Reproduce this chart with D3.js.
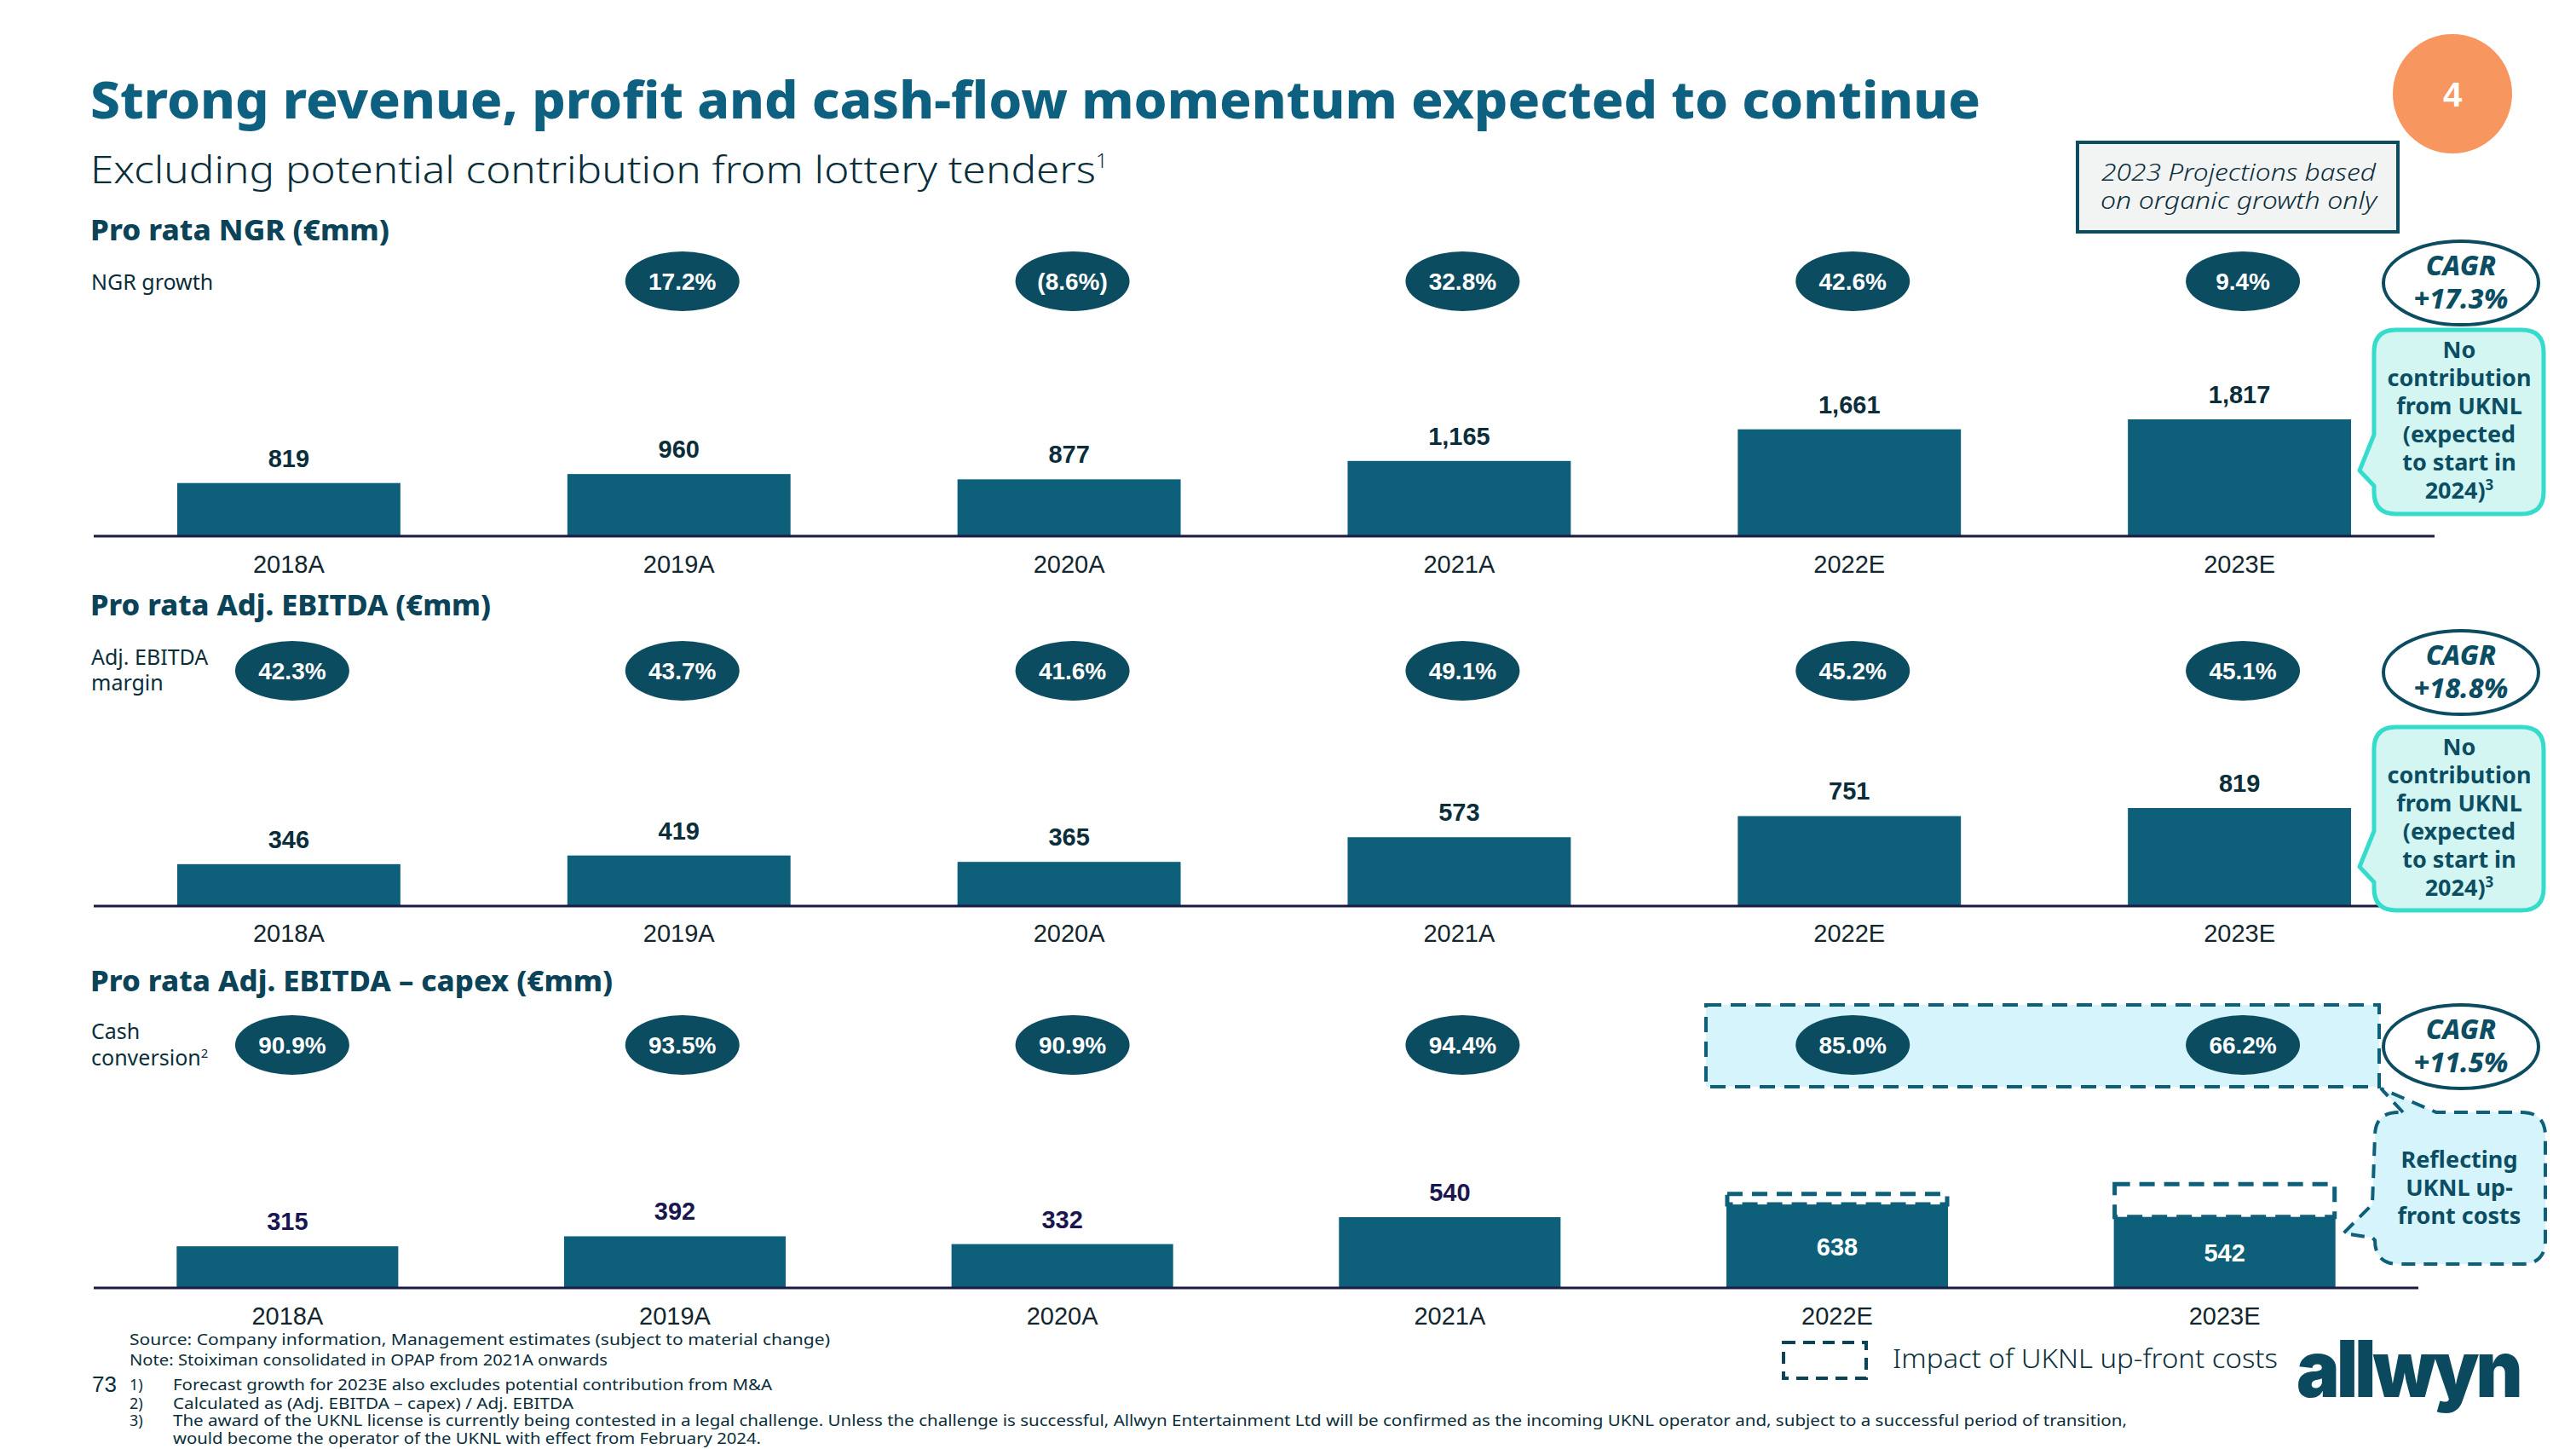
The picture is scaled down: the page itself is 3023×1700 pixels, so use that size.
<!DOCTYPE html>
<html>
<head>
<meta charset="utf-8">
<script src="https://cdn.jsdelivr.net/npm/d3@7"></script>
<style>
  html, body { margin: 0; padding: 0; background: #ffffff; }
  svg { display: block; }
</style>
</head>
<body>
<div id="chart"></div>
<script>
// ---------------- DATA ----------------
const categories = ["2018A", "2019A", "2020A", "2021A", "2022E", "2023E"];
const ngr = [819, 960, 877, 1165, 1661, 1817];
const ngrGrowth = [null, "17.2%", "(8.6%)", "32.8%", "42.6%", "9.4%"];
const ebitda = [346, 419, 365, 573, 751, 819];
const ebitdaMargin = ["42.3%", "43.7%", "41.6%", "49.1%", "45.2%", "45.1%"];
const ebitdaCapex = [315, 392, 332, 540, 638, 542];
const cashConversion = ["90.9%", "93.5%", "90.9%", "94.4%", "85.0%", "66.2%"];
const ebitdaCapexExUknlCosts = [null, null, null, null, 720, 795];
const cagrLabels = ["+17.3%", "+18.8%", "+11.5%"];
const panelTitles = ["Pro rata NGR (€mm)", "Pro rata Adj. EBITDA (€mm)", "Pro rata Adj. EBITDA – capex (€mm)"];
const footnotes = [
  "Source: Company information, Management estimates (subject to material change)",
  "Note: Stoiximan consolidated in OPAP from 2021A onwards"
];
const numberedNotes = [
  ["1)", "Forecast growth for 2023E also excludes potential contribution from M&A"],
  ["2)", "Calculated as (Adj. EBITDA – capex) / Adj. EBITDA"],
  ["3)", "The award of the UKNL license is currently being contested in a legal challenge. Unless the challenge is successful, Allwyn Entertainment Ltd will be confirmed as the incoming UKNL operator and, subject to a successful period of transition,"]
];
const lastNoteLine = "would become the operator of the UKNL with effect from February 2024.";
const calloutLines = ["No", "contribution", "from UKNL", "(expected", "to start in", "2024)³"];
const reflectLines = ["Reflecting", "UKNL up-", "front costs"];

// ---------------- STYLE ----------------
const W = 3023, H = 1700;
const BAR = "#0d5f7a";
const PILL = "#0b4c61";
const TEAL_TXT = "#0b4d62";
const TITLE = "#0e6080";
const DARK = "#0a2e3a";
const AXIS = "#1b1b45";
const HEAD = "'Noto Sans', 'Open Sans', sans-serif";
const NUM = "'Liberation Sans', Arial, sans-serif";

const svg = d3.select("#chart").append("svg")
  .attr("width", W).attr("height", H)
  .attr("viewBox", `0 0 ${W} ${H}`);
svg.append("rect").attr("width", W).attr("height", H).attr("fill", "#ffffff");

// ---------------- HEADER ----------------
svg.append("text").attr("x", 106).attr("y", 139)
  .attr("font-family", HEAD).attr("font-weight", 800).attr("font-size", 60)
  .attr("fill", TITLE).attr("textLength", 2218).attr("lengthAdjust", "spacingAndGlyphs")
  .text("Strong revenue, profit and cash-flow momentum expected to continue");

const sub = svg.append("text").attr("x", 106).attr("y", 215)
  .attr("font-family", HEAD).attr("font-weight", 300).attr("font-size", 44)
  .attr("fill", DARK);
sub.append("tspan").attr("textLength", 1180).attr("lengthAdjust", "spacingAndGlyphs")
  .text("Excluding potential contribution from lottery tenders");
sub.append("tspan").attr("font-size", 24).attr("dy", -18).text("1");

// page badge
svg.append("circle").attr("cx", 2878).attr("cy", 110).attr("r", 70).attr("fill", "#f7965f");
svg.append("text").attr("x", 2878).attr("y", 125).attr("text-anchor", "middle")
  .attr("font-family", NUM).attr("font-weight", 700).attr("font-size", 40).attr("fill", "#ffffff").text("4");

// projections box
svg.append("rect").attr("x", 2438).attr("y", 167).attr("width", 376).attr("height", 105)
  .attr("fill", "#f2f3f3").attr("stroke", PILL).attr("stroke-width", 4);
[["2023 Projections based", 212, 2466, 322], ["on organic growth only", 245, 2465, 324]].forEach(([t, y, x, len]) => {
  svg.append("text").attr("x", x).attr("y", y)
    .attr("font-family", HEAD).attr("font-style", "italic").attr("font-weight", 300)
    .attr("font-size", 28).attr("fill", DARK)
    .attr("textLength", len).attr("lengthAdjust", "spacingAndGlyphs").text(t);
});

// ---------------- SCALES ----------------
const xTop = d3.scaleBand().domain(categories).range([110, 2857]).paddingInner(0.428).paddingOuter(0.214);
const xBottom = d3.scaleBand().domain(categories).range([110, 2838]).paddingInner(0.428).paddingOuter(0.214);

const panels = [
  { title: panelTitles[0], titleY: 282, titleLen: 351, values: ngr, pct: ngrGrowth, pctY: 330,
    x: xTop, y: d3.scaleLinear().domain([0, 1817]).range([628, 492]), axisEnd: 2857, catY: 672,
    side: [["NGR growth", 340]], labelColor: DARK },
  { title: panelTitles[1], titleY: 722, titleLen: 470, values: ebitda, pct: ebitdaMargin, pctY: 787,
    x: xTop, y: d3.scaleLinear().domain([0, 819]).range([1062, 948]), axisEnd: 2857, catY: 1105,
    side: [["Adj. EBITDA", 780], ["margin", 810]], labelColor: DARK },
  { title: panelTitles[2], titleY: 1163, titleLen: 613, values: ebitdaCapex, pct: cashConversion, pctY: 1226,
    x: xBottom, y: d3.scaleLinear().domain([0, 540]).range([1510, 1428]), axisEnd: 2838, catY: 1554,
    side: [["Cash", 1219], ["conversion", 1250]], labelColor: "#1a1650" }
];

// panel 3 highlight (behind pills)
svg.append("rect").attr("x", 2002).attr("y", 1179).attr("width", 790).attr("height", 96)
  .attr("fill", "#d6f4fc").attr("stroke", BAR).attr("stroke-width", 4)
  .attr("stroke-dasharray", "18 11");

panels.forEach((p, pi) => {
  const g = svg.append("g");
  // title
  g.append("text").attr("x", 106).attr("y", p.titleY)
    .attr("font-family", HEAD).attr("font-weight", 800).attr("font-size", 34)
    .attr("fill", "#0b4358").attr("textLength", p.titleLen).attr("lengthAdjust", "spacingAndGlyphs")
    .text(p.title);
  // side label
  p.side.forEach(([t, y], i) => {
    const st = g.append("text").attr("x", 107).attr("y", y)
      .attr("font-family", HEAD).attr("font-weight", 400).attr("font-size", 25)
      .attr("fill", DARK).text(t);
    if (pi === 2 && i === 1) st.append("tspan").attr("font-size", 15).attr("dy", -9).text("2");
  });
  // bars
  const base = p.y(0);
  g.selectAll("rect.bar").data(p.values).join("rect").attr("class", "bar")
    .attr("x", (d, i) => p.x(categories[i])).attr("width", p.x.bandwidth())
    .attr("y", d => p.y(d)).attr("height", d => base - p.y(d)).attr("fill", BAR);
  // dashed UKNL impact boxes
  if (pi === 2) {
    g.selectAll("rect.impact").data(ebitdaCapexExUknlCosts.map((d, i) => ({ d, i })).filter(o => o.d != null))
      .join("rect").attr("class", "impact")
      .attr("x", o => p.x(categories[o.i]) + 1).attr("width", p.x.bandwidth() - 2)
      .attr("y", o => p.y(o.d)).attr("height", o => p.y(ebitdaCapex[o.i]) - p.y(o.d))
      .attr("fill", "none").attr("stroke", BAR).attr("stroke-width", 5).attr("stroke-dasharray", "18 11");
  }
  // axis line
  g.append("line").attr("x1", 110).attr("x2", p.axisEnd).attr("y1", base + 1).attr("y2", base + 1)
    .attr("stroke", AXIS).attr("stroke-width", 3);
  // value labels
  g.selectAll("text.val").data(p.values).join("text").attr("class", "val")
    .attr("x", (d, i) => p.x(categories[i]) + p.x.bandwidth() / 2)
    .attr("y", (d, i) => (pi === 2 && ebitdaCapexExUknlCosts[i] != null) ? (p.y(d) + base) / 2 + 11 : p.y(d) - 19)
    .attr("text-anchor", "middle").attr("font-family", NUM).attr("font-weight", 700).attr("font-size", 29)
    .attr("fill", (d, i) => (pi === 2 && ebitdaCapexExUknlCosts[i] != null) ? "#ffffff" : p.labelColor)
    .text(d => d3.format(",")(d));
  // category labels
  g.selectAll("text.cat").data(categories).join("text").attr("class", "cat")
    .attr("x", d => p.x(d) + p.x.bandwidth() / 2).attr("y", p.catY)
    .attr("text-anchor", "middle").attr("font-family", NUM).attr("font-size", 29)
    .attr("fill", "#13262e").text(d => d);
  // pills
  const pills = p.pct.map((t, i) => ({ t, i })).filter(o => o.t != null);
  g.selectAll("ellipse.pill").data(pills).join("ellipse").attr("class", "pill")
    .attr("cx", o => xTop(categories[o.i]) + xTop.bandwidth() / 2 + 4).attr("cy", p.pctY)
    .attr("rx", 67).attr("ry", 35).attr("fill", PILL);
  g.selectAll("text.pill").data(pills).join("text").attr("class", "pill")
    .attr("x", o => xTop(categories[o.i]) + xTop.bandwidth() / 2 + 4).attr("y", p.pctY + 10)
    .attr("text-anchor", "middle").attr("font-family", NUM).attr("font-weight", 700).attr("font-size", 28)
    .attr("fill", "#ffffff").text(o => o.t);
  // CAGR ellipse
  const cy = [332, 789, 1228][pi];
  g.append("ellipse").attr("cx", 2888).attr("cy", cy).attr("rx", 91).attr("ry", 49)
    .attr("fill", "#ffffff").attr("stroke", PILL).attr("stroke-width", 4);
  g.append("text").attr("x", 2888).attr("y", cy - 9).attr("text-anchor", "middle")
    .attr("font-family", HEAD).attr("font-style", "italic").attr("font-weight", 800).attr("font-size", 32)
    .attr("fill", TEAL_TXT).text("CAGR");
  g.append("text").attr("x", 2888).attr("y", cy + 30).attr("text-anchor", "middle")
    .attr("font-family", HEAD).attr("font-style", "italic").attr("font-weight", 800).attr("font-size", 32)
    .attr("fill", TEAL_TXT).text(cagrLabels[pi]);
});

// ---------------- CALLOUTS ----------------
function bubble(x0, y0, x1, y1, r, tailTop, tip, tailBot) {
  return `M${x0 + r},${y0} L${x1 - r},${y0} Q${x1},${y0} ${x1},${y0 + r} L${x1},${y1 - r} Q${x1},${y1} ${x1 - r},${y1}
    L${x0 + r},${y1} Q${x0},${y1} ${x0},${y1 - r} L${x0},${tailBot} L${tip[0]},${tip[1]} L${x0},${tailTop}
    L${x0},${y0 + r} Q${x0},${y0} ${x0 + r},${y0} Z`;
}
[[387, 603, 510, [2769, 552], 570], [853, 1068, 975, [2769, 1017], 1035]].forEach(([y0, y1, tt, tip, tb], k) => {
  svg.append("path").attr("d", bubble(2786, y0, 2985, y1, 26, tt, tip, tb))
    .attr("fill", "#d4f6f3").attr("stroke", "#36dccb").attr("stroke-width", 5).attr("stroke-linejoin", "round");
  calloutLines.forEach((t, i) => {
    const txt = svg.append("text").attr("x", 2886).attr("y", y0 + 33 + i * 33).attr("text-anchor", "middle")
      .attr("font-family", HEAD).attr("font-weight", 700).attr("font-size", 27).attr("fill", TEAL_TXT);
    if (t.endsWith("³")) {
      txt.append("tspan").text(t.slice(0, -1));
      txt.append("tspan").attr("font-size", 17).attr("dy", -10).text("3");
    } else txt.text(t);
  });
});

// panel 3 dashed callout with two tails
{
  const x0 = 2787, y0 = 1305, x1 = 2987, y1 = 1483, r = 28;
  const d = `M${x0 + 33},${y0} L2794,1277 L${x0 + 72},${y0} L${x1 - r},${y0} Q${x1},${y0} ${x1},${y0 + r}
    L${x1},${y1 - r} Q${x1},${y1} ${x1 - r},${y1} L${x0 + r},${y1} Q${x0},${y1} ${x0},${y1 - r}
    L${x0 - 3},1452 L2750,1447 L${x0 - 3},1413 L${x0},${y0 + r} Q${x0},${y0} ${x0 + r},${y0} Z`;
  svg.append("path").attr("d", d).attr("fill", "#d6f4fc").attr("stroke", BAR)
    .attr("stroke-width", 4).attr("stroke-dasharray", "16 10");
  reflectLines.forEach((t, i) => {
    svg.append("text").attr("x", 2886).attr("y", 1370 + i * 33).attr("text-anchor", "middle")
      .attr("font-family", HEAD).attr("font-weight", 700).attr("font-size", 27).attr("fill", TEAL_TXT).text(t);
  });
}

// ---------------- LEGEND & LOGO ----------------
svg.append("rect").attr("x", 2093).attr("y", 1575).attr("width", 97).attr("height", 42)
  .attr("fill", "none").attr("stroke", "#0b4358").attr("stroke-width", 4).attr("stroke-dasharray", "14 9");
svg.append("text").attr("x", 2221).attr("y", 1605)
  .attr("font-family", HEAD).attr("font-weight", 300).attr("font-size", 31).attr("fill", DARK)
  .attr("textLength", 452).attr("lengthAdjust", "spacingAndGlyphs")
  .text("Impact of UKNL up-front costs");
svg.append("text").attr("x", 2695).attr("y", 1639)
  .attr("font-family", "'Inter', 'Noto Sans', sans-serif").attr("font-weight", 900).attr("font-size", 92)
  .attr("fill", "#0b4a5e").attr("textLength", 262).attr("lengthAdjust", "spacingAndGlyphs")
  .attr("letter-spacing", -4).text("allwyn");

// ---------------- FOOTNOTES ----------------
const FN = 18;
const fnLens = [822, 561];
footnotes.forEach((t, i) => {
  svg.append("text").attr("x", 152).attr("y", 1578 + i * 24)
    .attr("font-family", HEAD).attr("font-weight", 400).attr("font-size", FN).attr("fill", DARK)
    .attr("textLength", fnLens[i]).attr("lengthAdjust", "spacingAndGlyphs").text(t);
});
svg.append("text").attr("x", 108).attr("y", 1633).attr("font-family", NUM).attr("font-size", 26)
  .attr("fill", DARK).text("73");
const noteY = [1631, 1653, 1673];
const noteLens = [703, 470, 2293];
numberedNotes.forEach(([n, t], i) => {
  svg.append("text").attr("x", 152).attr("y", noteY[i]).attr("font-family", HEAD)
    .attr("font-size", FN).attr("fill", DARK).text(n);
  svg.append("text").attr("x", 203).attr("y", noteY[i]).attr("font-family", HEAD)
    .attr("font-size", FN).attr("fill", DARK)
    .attr("textLength", noteLens[i]).attr("lengthAdjust", "spacingAndGlyphs").text(t);
});
svg.append("text").attr("x", 203).attr("y", 1694).attr("font-family", HEAD)
  .attr("font-size", FN).attr("fill", DARK)
  .attr("textLength", 690).attr("lengthAdjust", "spacingAndGlyphs").text(lastNoteLine);
</script>
</body>
</html>
